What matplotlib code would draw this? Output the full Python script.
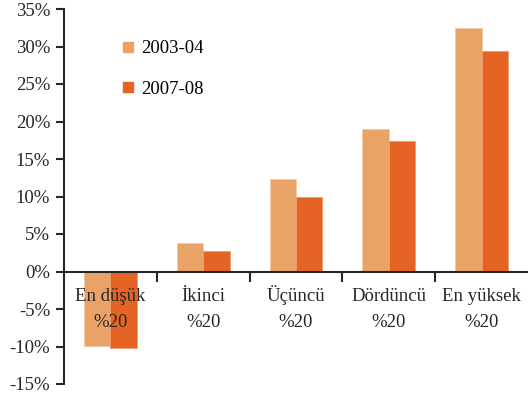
import matplotlib
matplotlib.use("Agg")
import matplotlib.pyplot as plt
from matplotlib.lines import Line2D
import numpy as np

categories = ["En düşük", "İkinci", "Üçüncü", "Dördüncü", "En yüksek"]
sublabel = "%20"
s2003 = [-9.9, 3.8, 12.3, 19.0, 32.5]
s2007 = [-10.2, 2.8, 9.9, 17.4, 29.4]
series_names = ["2003-04", "2007-08"]
yticks = [-15, -10, -5, 0, 5, 10, 15, 20, 25, 30, 35]

c_light = "#EAA366"
c_dark = "#E56425"
axcol = "#262626"
fs = 13.5

plt.rcParams['font.family'] = ['Liberation Serif', 'DejaVu Serif']

fig = plt.figure(figsize=(5.28, 3.97), dpi=100)
ax = fig.add_axes([64/528, 1 - 384/397, 1 - 64/528, (384 - 9)/397])

x = np.arange(len(categories))
w = 0.285
ax.bar(x - w/2, s2003, w, color=c_light, edgecolor="#F2C9A5", linewidth=0.6)
ax.bar(x + w/2, s2007, w, color=c_dark, edgecolor="#F09A6E", linewidth=0.6)

ax.set_xlim(-0.5, len(categories) - 0.5)
ax.set_ylim(-15, 35)

ax.spines['top'].set_visible(False)
ax.spines['right'].set_visible(False)
ax.spines['bottom'].set_position(('data', 0))
ax.spines['bottom'].set_color(axcol)
ax.spines['left'].set_color(axcol)
ax.spines['bottom'].set_linewidth(1.5)
ax.spines['left'].set_linewidth(1.5)

ax.set_yticks(yticks)
ax.set_yticklabels([f"{v}%" for v in yticks], fontsize=fs, color=axcol)
ax.tick_params(axis='y', direction='out', length=6, width=1.5, color=axcol, pad=4)

ax.set_xticks(x[:-1] + 0.5)
ax.set_xticklabels([])
ax.tick_params(axis='x', which='major', direction='out', length=7, width=1.5, color=axcol)

# two-line category labels with fixed baselines
for xi, name in zip(x, categories):
    ax.text(xi, -3.87, name, ha='center', va='baseline', fontsize=fs, color=axcol)
    ax.text(xi, -7.43, sublabel, ha='center', va='baseline', fontsize=fs, color=axcol)

handles = [Line2D([], [], marker='s', linestyle='none', markersize=7, color=c_light),
           Line2D([], [], marker='s', linestyle='none', markersize=7, color=c_dark)]
fig.legend(handles, series_names, loc='upper left', bbox_to_anchor=(120/528, 1 - 40/397),
           frameon=False, fontsize=fs, handlelength=0.8, handletextpad=0.35,
           labelspacing=1.25, borderpad=0, borderaxespad=0)

fig.savefig("out.png", dpi=100)
